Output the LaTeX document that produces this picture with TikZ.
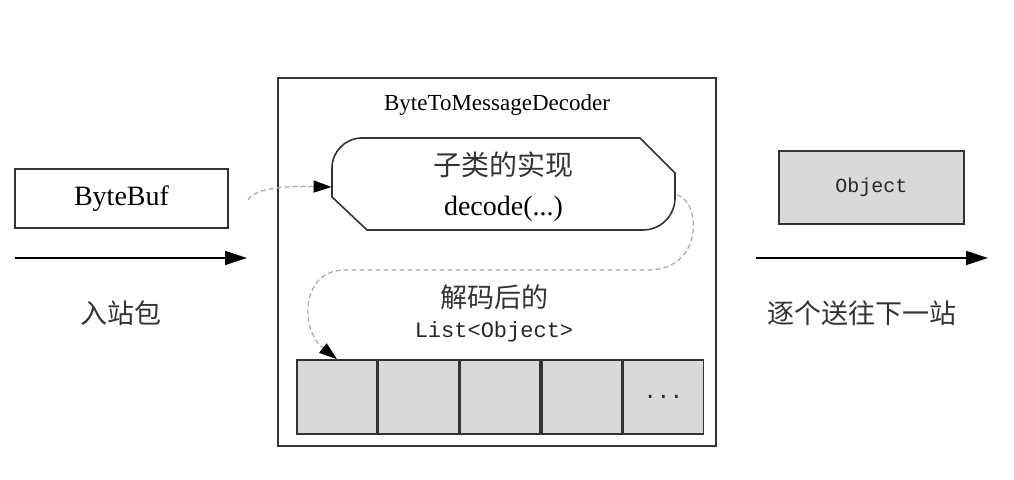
\documentclass[tikz,border=0pt]{standalone}
\usepackage{fontspec}
\setmainfont{Liberation Serif}
\setmonofont{Liberation Mono}
\newfontfamily\cjk{Noto Sans CJK SC}
\usetikzlibrary{arrows.meta,positioning}
\definecolor{edge}{RGB}{51,51,51}
\definecolor{cellgray}{RGB}{217,217,217}
\tikzset{
  plainbox/.style={draw=edge, line width=0.8pt, rectangle, minimum width=106.5pt, minimum height=29.5pt, inner sep=0pt},
  cellbox/.style={draw=edge, fill=cellgray, line width=0.8pt, minimum width=40pt, minimum height=37pt, inner sep=0pt},
  flow/.style={line width=0.8pt, -{Triangle[length=11pt,width=7pt]}},
  hop/.style={draw=gray!70, line width=0.6pt, dash pattern=on 2.5pt off 1.5pt, -{Triangle[length=9pt,width=6pt,color=black]}},
  zh/.style={font=\cjk\fontsize{13.5}{16}\selectfont, text=black!80},
  latin/.style={font=\fontsize{14}{16}\selectfont},
  mono/.style={font=\ttfamily\fontsize{11}{13}\selectfont, text=black!85}
}

\begin{document}
\begin{tikzpicture}[x=0.5pt, y=0.5pt]
  \useasboundingbox (0,0) rectangle (1014,480);

  % decoder frame
  \node [plainbox, minimum width=219pt, minimum height=184pt] (decoder) at (497,218) {};
  \node [font=\fontsize{11.5}{13}\selectfont] (title) at (497,375) {ByteToMessageDecoder};

  % subclass decode()
  \node [latin, font=\fontsize{14}{20}\selectfont, minimum width=171.5pt, minimum height=46pt, inner sep=0pt, align=center] (decode) at (503.5,293) {{\cjk\color{black!80}子类的实现}\\decode(...)};
  \draw [draw=edge, line width=0.8pt] (640,342) -- (675,307) [rounded corners=16pt] -- (675,250) [sharp corners] -- (367,250) -- (332,283) [rounded corners=15pt] -- (332,342) [sharp corners] -- cycle;

  % inbound side
  \node [plainbox, latin] (bytebuf) at (121.5,281.5) {ByteBuf};
  \coordinate (inL) at (15,222);
  \coordinate (inR) at (247,222);
  \draw [flow] (inL) -- (inR);
  \node [zh] (inlabel) at (121,167) {入站包};

  % outbound side
  \node [plainbox, fill=cellgray, minimum width=92.5pt, minimum height=36.5pt, mono, font=\ttfamily\fontsize{10}{12}\selectfont] (object) at (871.5,292.5) {Object};
  \coordinate (outL) at (756,222);
  \coordinate (outR) at (988,222);
  \draw [flow] (outL) -- (outR);
  \node [zh] (outlabel) at (862,167) {逐个送往下一站};

  % decoded list
  \node [zh] (listhead) at (494,183) {解码后的};
  \node [mono] (listtype) at (494,148) {List<Object>};
  \node [cellbox] (c1) at (337,83) {};
  \foreach \i [count=\j from 2] in {1,...,4}
    \node [cellbox, right=0pt of c\i] (c\j) {};
  \node [mono] (more) at (c5.center) {...};

  % dashed hops
  \coordinate (bbout) at (248,280);
  \draw [hop] (bbout) .. controls (256,293) and (290,294) .. (decode.west);
  \coordinate (decout) at (677,285);
  \draw [hop] (decout) .. controls (700,280) and (705,212) .. (650,210) -- (345,210) .. controls (300,210) and (300,150) .. (c1.north);
\end{tikzpicture}
\end{document}
